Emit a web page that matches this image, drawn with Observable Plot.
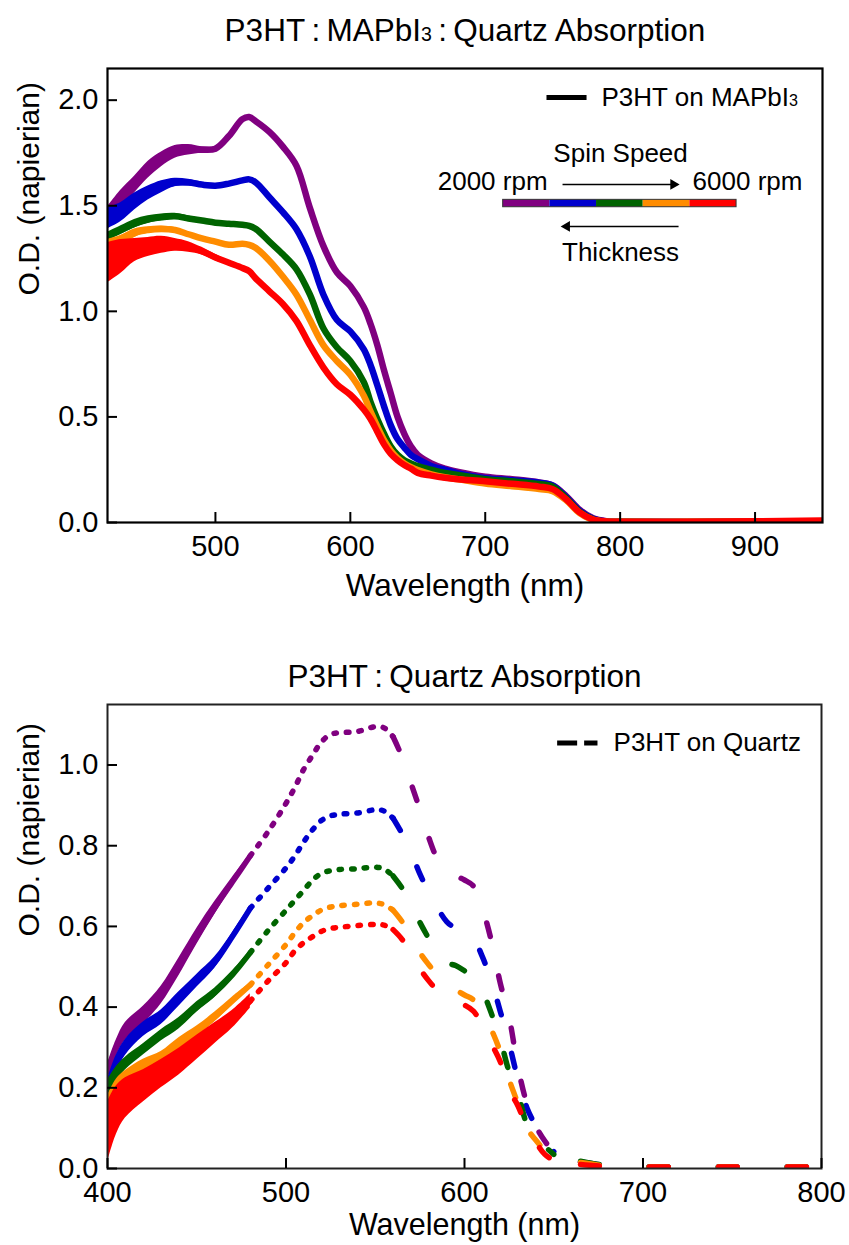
<!DOCTYPE html>
<html><head><meta charset="utf-8">
<script src="https://cdn.jsdelivr.net/npm/d3@7"></script>
<script src="https://cdn.jsdelivr.net/npm/@observablehq/plot@0.6"></script>
<style>
body{margin:0;background:#fff;}
#chart{width:849px;height:1245px;overflow:hidden;background:#fff;}
#chart svg{display:block;}
</style></head><body><div id="chart"></div>
<script>
const FONT = "'Liberation Sans', Arial, Helvetica, sans-serif";

// ---- series identity ----
const speeds = ["2000 rpm", "3000 rpm", "4000 rpm", "5000 rpm", "6000 rpm"];
const colors = ["#800080", "#0000cd", "#006400", "#ff8c00", "#ff0000"];

// ---- top panel: P3HT on MAPbI3 (O.D.) ----
const wlTop = [420,430,440,450,460,470,480,490,500,510,520,525,530,540,550,560,570,580,590,600,610,615,620,625,630,635,640,645,650,660,670,680,700,720,740,750,760,770,780,790,800,850,900,950];
const mapbi2000 = [1.45,1.53,1.60,1.67,1.72,1.755,1.765,1.765,1.77,1.83,1.91,1.92,1.90,1.85,1.78,1.69,1.49,1.31,1.185,1.12,1.02,0.94,0.84,0.72,0.61,0.50,0.42,0.36,0.32,0.28,0.255,0.24,0.217,0.205,0.19,0.175,0.125,0.06,0.02,0.006,0.003,0.002,0.003,0.005];
const mapbi3000 = [1.44,1.47,1.52,1.56,1.59,1.61,1.61,1.60,1.595,1.605,1.62,1.625,1.61,1.54,1.47,1.39,1.26,1.08,0.96,0.905,0.82,0.745,0.65,0.55,0.46,0.395,0.355,0.32,0.30,0.268,0.25,0.233,0.21,0.2,0.188,0.175,0.12,0.055,0.018,0.005,0.003,0.002,0.003,0.005];
const mapbi4000 = [1.355,1.385,1.415,1.435,1.445,1.45,1.44,1.43,1.42,1.415,1.41,1.405,1.39,1.33,1.27,1.20,1.08,0.92,0.83,0.765,0.665,0.57,0.49,0.42,0.36,0.32,0.295,0.28,0.267,0.25,0.235,0.225,0.205,0.195,0.182,0.17,0.115,0.05,0.015,0.004,0.003,0.002,0.003,0.005];
const mapbi5000 = [1.27,1.33,1.37,1.385,1.39,1.385,1.365,1.345,1.33,1.315,1.32,1.315,1.30,1.24,1.165,1.08,0.96,0.84,0.765,0.70,0.60,0.525,0.455,0.39,0.34,0.305,0.28,0.262,0.248,0.228,0.214,0.205,0.185,0.172,0.158,0.148,0.105,0.045,0.012,0.004,0.003,0.003,0.004,0.006];
const mapbi6000 = [1.23,1.26,1.29,1.305,1.315,1.315,1.305,1.285,1.255,1.23,1.205,1.19,1.155,1.095,1.035,0.955,0.84,0.735,0.655,0.605,0.535,0.49,0.43,0.37,0.325,0.295,0.272,0.255,0.235,0.222,0.212,0.205,0.195,0.183,0.17,0.158,0.11,0.048,0.014,0.005,0.004,0.004,0.006,0.01];
const noiseWlTop = [420,430,440,450,460,470,480,490,500,510];
const mapbiNoise2000 = [0.045,0.045,0.04,0.04,0.035,0.03,0.025,0.015,0.012,0.008];
const mapbiNoise3000 = [0.05,0.045,0.04,0.033,0.028,0.02,0.015,0.012,0.01,0.008];
const mapbiNoise4000 = [0.02,0.02,0.02,0.018,0.016,0.014,0.012,0.01,0.008,0.006];
const mapbiNoise5000 = [0.07,0.03,0.02,0.015,0.014,0.012,0.01,0.008,0.006,0.005];
const mapbiNoise6000 = [0.095,0.08,0.055,0.045,0.04,0.03,0.025,0.018,0.015,0.01];

// ---- bottom panel: P3HT on Quartz (O.D.) ----
const wlBottom = [400,405,410,420,430,440,450,460,470,480,490,500,505,510,515,520,525,530,540,550,555,560,565,570,575,580,585,590,595,600,605,610,615,620,625,630,635,640,645,650,655,660,665,670,680,700,750,800];
const quartz2000 = [0.24,0.30,0.34,0.38,0.43,0.50,0.575,0.645,0.71,0.775,0.835,0.905,0.945,0.99,1.025,1.058,1.076,1.08,1.083,1.095,1.092,1.07,1.02,0.955,0.89,0.82,0.765,0.735,0.725,0.715,0.70,0.645,0.565,0.46,0.375,0.25,0.16,0.105,0.068,0.04,0.025,0.018,0.015,0.012,0.006,0.004,0.004,0.004];
const quartz3000 = [0.20,0.26,0.30,0.345,0.375,0.42,0.465,0.51,0.575,0.645,0.695,0.745,0.775,0.81,0.84,0.863,0.874,0.878,0.881,0.889,0.886,0.868,0.83,0.785,0.73,0.685,0.645,0.612,0.595,0.585,0.57,0.525,0.465,0.39,0.31,0.22,0.15,0.105,0.07,0.042,0.026,0.019,0.016,0.013,0.007,0.004,0.004,0.004];
const quartz4000 = [0.20,0.235,0.26,0.295,0.33,0.36,0.40,0.435,0.48,0.535,0.59,0.64,0.665,0.69,0.715,0.732,0.738,0.741,0.743,0.747,0.742,0.725,0.695,0.655,0.61,0.57,0.535,0.51,0.503,0.49,0.475,0.44,0.385,0.32,0.24,0.185,0.11,0.08,0.055,0.035,0.025,0.02,0.018,0.014,0.007,0.004,0.004,0.004];
const quartz5000 = [0.15,0.20,0.225,0.255,0.275,0.31,0.34,0.375,0.415,0.455,0.505,0.555,0.585,0.61,0.627,0.641,0.648,0.651,0.655,0.658,0.654,0.64,0.612,0.575,0.535,0.505,0.478,0.455,0.443,0.43,0.418,0.39,0.345,0.29,0.22,0.16,0.10,0.07,0.045,0.03,0.022,0.017,0.015,0.012,0.006,0.004,0.004,0.004];
const quartz6000 = [0.09,0.145,0.175,0.205,0.235,0.265,0.30,0.335,0.37,0.415,0.465,0.51,0.54,0.56,0.575,0.588,0.595,0.598,0.602,0.605,0.603,0.592,0.568,0.53,0.495,0.465,0.44,0.422,0.413,0.405,0.39,0.355,0.31,0.265,0.195,0.155,0.10,0.065,0.035,0.02,0.015,0.012,0.01,0.008,0.005,0.004,0.004,0.004];
const noiseWlBottom = [400,405,410,420,430,440,450,460,470,480];
const quartzNoise2000 = [0.02,0.02,0.022,0.022,0.022,0.022,0.02,0.016,0.012,0.006];
const quartzNoise3000 = [0.022,0.022,0.02,0.018,0.018,0.018,0.016,0.014,0.01,0.006];
const quartzNoise4000 = [0.02,0.018,0.016,0.014,0.014,0.014,0.013,0.012,0.01,0.006];
const quartzNoise5000 = [0.03,0.022,0.018,0.016,0.015,0.014,0.013,0.012,0.01,0.006];
const quartzNoise6000 = [0.075,0.06,0.05,0.04,0.035,0.033,0.03,0.026,0.022,0.018];

// ---- ticks ----
const xTicksTop = [500, 600, 700, 800, 900];
const yTicksTop = [0, 0.5, 1.0, 1.5, 2.0];
const xTicksBottom = [400, 500, 600, 700, 800];
const yTicksBottom = [0, 0.2, 0.4, 0.6, 0.8, 1.0];

const topSeries = [mapbi2000, mapbi3000, mapbi4000, mapbi5000, mapbi6000];
const topNoise = [mapbiNoise2000, mapbiNoise3000, mapbiNoise4000, mapbiNoise5000, mapbiNoise6000];
const bottomSeries = [quartz2000, quartz3000, quartz4000, quartz5000, quartz6000];
const bottomNoise = [quartzNoise2000, quartzNoise3000, quartzNoise4000, quartzNoise5000, quartzNoise6000];

function rows(wl, vals, name) {
  return wl.map((w, j) => ({wl: w, od: vals[j], speed: name}));
}
function noiseRows(wl, vals, nwl, amps, name) {
  return nwl.map((w, j) => {
    const v = vals[wl.indexOf(w)];
    return {wl: w, lo: v - amps[j], hi: v + amps[j], speed: name};
  });
}

const color = {domain: speeds, range: colors};
const baseStyle = {fontFamily: FONT, fontSize: "29px", color: "#000", background: "#fff", overflow: "visible"};
const LEG = 26;

// ================= TOP PANEL =================
const T = {w: 849, h: 620, ml: 107, mr: 27, mt: 68, mb: 98};
const topMarks = [];
speeds.forEach((s, i) => {
  topMarks.push(Plot.areaY(noiseRows(wlTop, topSeries[i], noiseWlTop, topNoise[i], s),
    {x: "wl", y1: "lo", y2: "hi", fill: "speed", curve: "catmull-rom", clip: true}));
  topMarks.push(Plot.line(rows(wlTop, topSeries[i], s),
    {x: "wl", y: "od", stroke: "speed", strokeWidth: 6.5, curve: "catmull-rom", strokeLinejoin: "round", strokeLinecap: "round", clip: true}));
});

const barStart = 713.3, barStep = 34.6;
const topPlot = Plot.plot({
  width: T.w, height: T.h,
  marginLeft: T.ml, marginRight: T.mr, marginTop: T.mt, marginBottom: T.mb,
  style: baseStyle,
  x: {domain: [420, 950]},
  y: {domain: [0, 2.15]},
  color,
  marks: [
    ...topMarks,
    Plot.frame({stroke: "#000", strokeWidth: 2.2}),
    Plot.ruleX(xTicksTop, {x: d => d, insetTop: T.h - T.mt - T.mb - 10, stroke: "#000", strokeWidth: 2}),
    Plot.ruleY(yTicksTop, {y: d => d, insetRight: T.w - T.ml - T.mr - 10, stroke: "#000", strokeWidth: 2}),
    Plot.axisX(xTicksTop, {tickSize: 0, tickPadding: 13, label: null, tickFormat: d => String(d)}),
    Plot.axisY(yTicksTop, {tickSize: 0, tickPadding: 9, label: null, tickFormat: d3.format(".1f")}),
    Plot.text(["Wavelength (nm)"], {frameAnchor: "bottom", dy: 63, lineAnchor: "middle", fontSize: 31.5}),
    Plot.text(["O.D. (napierian)"], {frameAnchor: "left", dx: -78, rotate: -90, lineAnchor: "middle", fontSize: 30}),
    Plot.text(["P3HT\u2009:\u2009MAPbI3\u2009:\u2009Quartz Absorption"], {frameAnchor: "top", dy: -38, lineAnchor: "middle", fontSize: 31.5}),
    // legend
    Plot.link([{x1: 745.4, x2: 775.1, y: 2.013}], {x1: "x1", x2: "x2", y1: "y", y2: "y", stroke: "#000", strokeWidth: 5}),
    Plot.text([{x: 786.2, y: 2.013, t: "P3HT on MAPbI3"}], {x: "x", y: "y", text: "t", textAnchor: "start", lineAnchor: "middle", fontSize: LEG}),
    Plot.text([{x: 800.3, y: 1.748, t: "Spin Speed"}], {x: "x", y: "y", text: "t", lineAnchor: "middle", fontSize: LEG}),
    Plot.text([{x: 746.2, y: 1.613, t: "2000 rpm"}], {x: "x", y: "y", text: "t", textAnchor: "end", lineAnchor: "middle", fontSize: LEG}),
    Plot.text([{x: 853.7, y: 1.613, t: "6000 rpm"}], {x: "x", y: "y", text: "t", textAnchor: "start", lineAnchor: "middle", fontSize: LEG}),
    Plot.link([{x1: 757.3, x2: 838.5, y: 1.601}], {x1: "x1", x2: "x2", y1: "y", y2: "y", stroke: "#000", strokeWidth: 1.6}),
    Plot.dot([{x: 839.5, y: 1.601}], {x: "x", y: "y", symbol: "triangle", r: 4, rotate: 90, fill: "#000", stroke: null}),
    Plot.rect(speeds.map((s, i) => ({x1: barStart + i * barStep, x2: barStart + (i + 1) * barStep, speed: s})),
      {x1: "x1", x2: "x2", y1: 1.493, y2: 1.528, fill: "speed"}),
    Plot.rect([{x1: barStart, x2: barStart + 5 * barStep}], {x1: "x1", x2: "x2", y1: 1.493, y2: 1.528, fill: "none", stroke: "#333", strokeWidth: 1}),
    Plot.link([{x1: 843.3, x2: 761.5, y: 1.402}], {x1: "x1", x2: "x2", y1: "y", y2: "y", stroke: "#000", strokeWidth: 1.6}),
    Plot.dot([{x: 760.5, y: 1.402}], {x: "x", y: "y", symbol: "triangle", r: 4, rotate: -90, fill: "#000", stroke: null}),
    Plot.text([{x: 800.3, y: 1.276, t: "Thickness"}], {x: "x", y: "y", text: "t", lineAnchor: "middle", fontSize: LEG})
  ]
});

// ================= BOTTOM PANEL =================
const B = {w: 849, h: 625, ml: 107, mr: 28, mt: 84, mb: 77};
// dash appearance along the quartz traces (style only)
const quartzSegments = [
  {lo: 400, hi: 480, dash: null},
  {lo: 480, hi: 560, dash: "2.5,10"},
  {lo: 560, hi: 650, dash: "14,40"},
  {lo: 665, hi: 800, dash: "19,50"}
];
const bottomMarks = [];
speeds.forEach((s, i) => {
  const all = rows(wlBottom, bottomSeries[i], s);
  bottomMarks.push(Plot.areaY(noiseRows(wlBottom, bottomSeries[i], noiseWlBottom, bottomNoise[i], s),
    {x: "wl", y1: "lo", y2: "hi", fill: "speed", curve: "catmull-rom", clip: true}));
  quartzSegments.forEach(seg => {
    const part = all.filter(d => d.wl >= seg.lo && d.wl <= seg.hi);
    const opts = {x: "wl", y: "od", stroke: "speed", strokeWidth: 5.5, curve: "catmull-rom",
      strokeLinecap: "round", strokeLinejoin: "round", clip: true};
    if (seg.dash) opts.strokeDasharray = seg.dash;
    bottomMarks.push(Plot.line(part, opts));
  });
});

const bottomPlot = Plot.plot({
  width: B.w, height: B.h,
  marginLeft: B.ml, marginRight: B.mr, marginTop: B.mt, marginBottom: B.mb,
  style: baseStyle,
  x: {domain: [400, 800]},
  y: {domain: [0, 1.15]},
  color,
  marks: [
    ...bottomMarks,
    Plot.frame({stroke: "#222", strokeWidth: 2}),
    Plot.ruleX(xTicksBottom, {x: d => d, insetTop: B.h - B.mt - B.mb - 10, stroke: "#000", strokeWidth: 2}),
    Plot.ruleY(yTicksBottom, {y: d => d, insetRight: B.w - B.ml - B.mr - 10, stroke: "#000", strokeWidth: 2}),
    Plot.axisX(xTicksBottom, {tickSize: 0, tickPadding: 13, label: null, tickFormat: d => String(d)}),
    Plot.axisY(yTicksBottom, {tickSize: 0, tickPadding: 9, label: null, tickFormat: d3.format(".1f")}),
    Plot.text(["Wavelength (nm)"], {frameAnchor: "bottom", dy: 57, lineAnchor: "middle", fontSize: 30.5}),
    Plot.text(["O.D. (napierian)"], {frameAnchor: "left", dx: -78, rotate: -90, lineAnchor: "middle", fontSize: 30}),
    Plot.text(["P3HT\u2009:\u2009Quartz Absorption"], {frameAnchor: "top", dy: -28, lineAnchor: "middle", fontSize: 31.5}),
    Plot.link([{x1: 651.9, x2: 674.5, y: 1.0545}], {x1: "x1", x2: "x2", y1: "y", y2: "y", stroke: "#000", strokeWidth: 5, strokeDasharray: "20,7"}),
    Plot.text([{x: 683.5, y: 1.0545, t: "P3HT on Quartz"}], {x: "x", y: "y", text: "t", textAnchor: "start", lineAnchor: "middle", fontSize: LEG})
  ]
});

function subscriptify(svg) {
  d3.select(svg).selectAll("text").each(function () {
    const t = this.textContent;
    if (this.children.length || !t.includes("MAPbI3")) return;
    const [a, b] = t.split("MAPbI3");
    this.textContent = "";
    const sel = d3.select(this);
    sel.append("tspan").text(a + "MAPbI");
    sel.append("tspan").attr("font-size", "0.62em").text("3");
    if (b) sel.append("tspan").text(b);
  });
}
subscriptify(topPlot);
const chart = document.getElementById("chart");
chart.appendChild(topPlot);
chart.appendChild(bottomPlot);
</script></body></html>
